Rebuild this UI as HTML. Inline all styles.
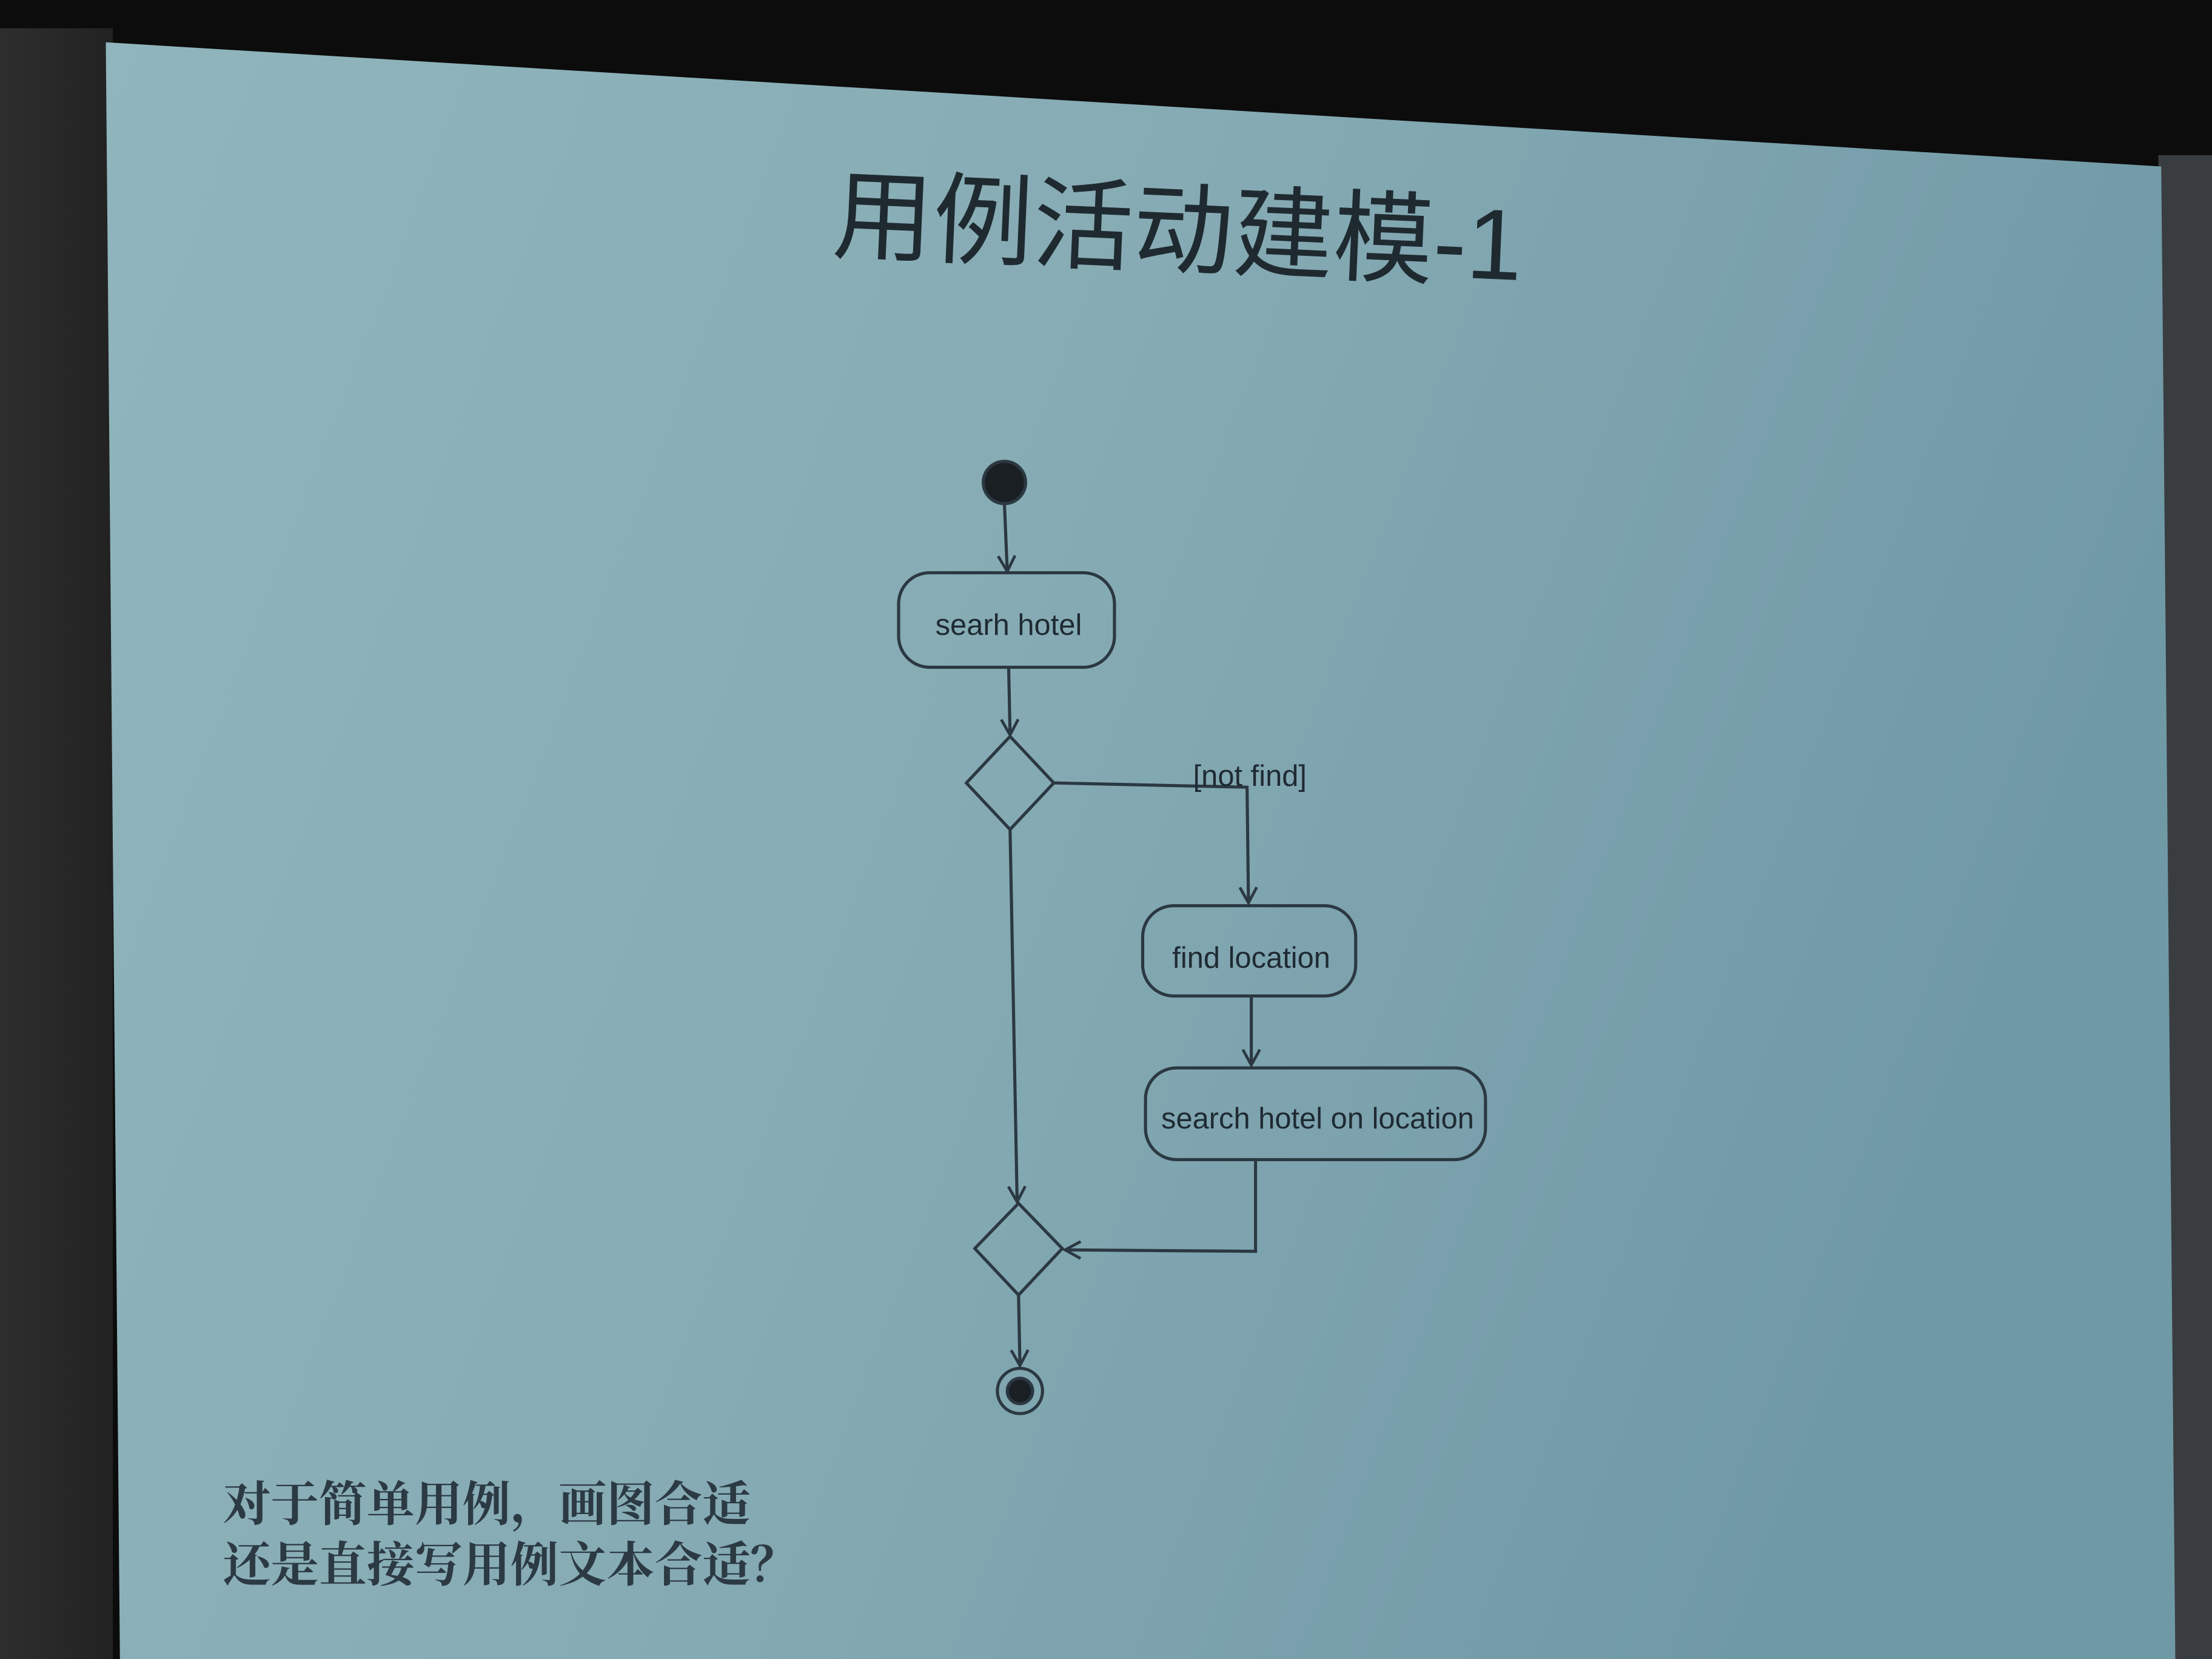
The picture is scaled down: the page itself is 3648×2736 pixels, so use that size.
<!DOCTYPE html>
<html><head><meta charset="utf-8"><style>
html,body{margin:0;padding:0;background:#111;}
svg{display:block;}
</style></head><body>
<svg width="3648" height="2736" viewBox="0 0 1568 1176" preserveAspectRatio="none" xmlns="http://www.w3.org/2000/svg">
<defs>
<linearGradient id="scr" x1="0" y1="0" x2="1" y2="0.3">
<stop offset="0" stop-color="#90b5bc"/>
<stop offset="0.5" stop-color="#86abb4"/>
<stop offset="1" stop-color="#7099a6"/>
</linearGradient>
<linearGradient id="lft" x1="0" y1="0" x2="1" y2="0">
<stop offset="0" stop-color="#2e2e2e"/><stop offset="1" stop-color="#222"/>
</linearGradient>
<marker id="a" markerWidth="14" markerHeight="14" refX="12" refY="7" orient="auto" markerUnits="userSpaceOnUse">
<path d="M1,1 L12,7 L1,13" fill="none" stroke="#2b3842" stroke-width="2"/>
</marker>
</defs>
<rect width="1568" height="1176" fill="#0c0c0c"/>
<rect x="0" y="20" width="80" height="1156" fill="url(#lft)"/>
<rect x="1530" y="110" width="38" height="1066" fill="#3a3d40"/>
<polygon points="75,30 1532,118 1542,1176 85,1176" fill="url(#scr)"/>
<text x="835" y="188" text-anchor="middle" font-family="'Liberation Sans','Noto Sans CJK SC',sans-serif" font-size="71" fill="#1f2a30" transform="rotate(2.5 835 160)">用例活动建模-1</text>
<g stroke="#2b3842" stroke-width="2.2" fill="none">
<circle cx="712" cy="342" r="15" fill="#1a1f24"/>
<line x1="712" y1="357" x2="714" y2="405" marker-end="url(#a)"/>
<rect x="637" y="406" width="153" height="67" rx="22"/>
<line x1="715" y1="473" x2="716" y2="521" marker-end="url(#a)"/>
<polygon points="716,522 747,555 716,588 685,555"/>
<polyline points="747,555 884,558 885,640" marker-end="url(#a)"/>
<rect x="810" y="642" width="151" height="64" rx="22"/>
<line x1="887" y1="706" x2="887" y2="755" marker-end="url(#a)"/>
<rect x="812" y="757" width="241" height="65" rx="22"/>
<line x1="716" y1="588" x2="721" y2="852" marker-end="url(#a)"/>
<polygon points="722,853 753,885 722,918 691,885"/>
<polyline points="890,822 890,887 755,886" marker-end="url(#a)"/>
<line x1="722" y1="918" x2="723" y2="968" marker-end="url(#a)"/>
<circle cx="723" cy="986" r="16"/>
<circle cx="723" cy="986" r="9" fill="#1a1f24"/>
</g>
<g font-family="'Liberation Sans',sans-serif" font-size="21" fill="#1f2a33" text-anchor="middle">
<text x="715" y="450">searh hotel</text>
<text x="887" y="686">find location</text>
<text x="934" y="800">search hotel on location</text>
<text x="886" y="557">[not find]</text>
</g>
<g font-family="'Liberation Serif','Noto Serif CJK SC',serif" font-size="34" font-weight="bold" fill="#2c3a44">
<text x="158" y="1078">对于简单用例，画图合适</text>
<text x="158" y="1121">还是直接写用例文本合适？</text>
</g>
</svg>
</body></html>
